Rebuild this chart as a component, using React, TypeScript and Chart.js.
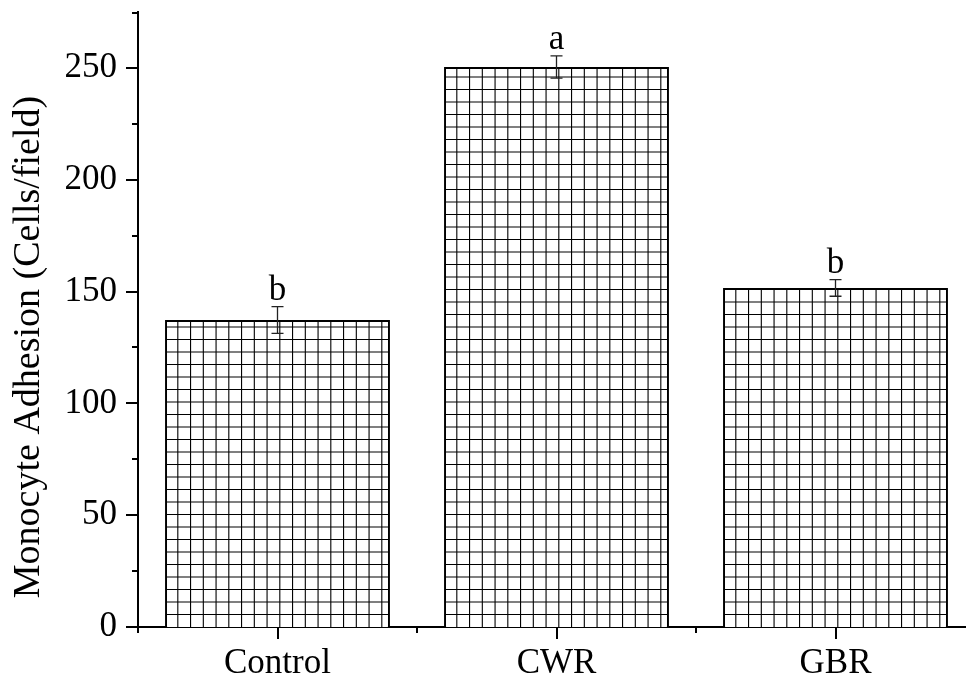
import React, { useEffect, useRef } from "react";
import { Chart, registerables } from "chart.js";

Chart.register(...registerables);

const categories = ["Control", "CWR", "GBR"];
const means = [137.3, 250.4, 151.6];
const errors = [6, 5, 3.7];
const letters = ["b", "a", "b"];
const yTicks = [0, 50, 100, 150, 200, 250];
const yMinorTicks = [25, 75, 125, 175, 225, 275];
const yTitle = "Monocyte Adhesion (Cells/field)";

const FONT = "'Liberation Serif', 'Times New Roman', serif";

const decorPlugin = {
  id: "decor",
  afterDatasetsDraw(chart: any) {
    const ctx = chart.ctx;
    const meta = chart.getDatasetMeta(0);
    const yScale = chart.scales.y;
    meta.data.forEach((bar: any) => {
      const p = bar.getProps(["x", "y", "base", "width"], true);
      const left = p.x - p.width / 2;
      const right = p.x + p.width / 2;
      const top = p.y;
      const bottom = p.base;
      ctx.save();
      ctx.beginPath();
      ctx.rect(left + 1, top + 1, right - left - 2, bottom - top - 1);
      ctx.clip();
      ctx.strokeStyle = "#000";
      ctx.lineWidth = 1.1;
      ctx.beginPath();
      for (let x = left + 12.75; x < right - 1; x += 12.75) {
        ctx.moveTo(x, top);
        ctx.lineTo(x, bottom);
      }
      for (let y = bottom - 12.5; y > top + 1; y -= 12.5) {
        ctx.moveTo(left, y);
        ctx.lineTo(right, y);
      }
      ctx.stroke();
      ctx.restore();
    });
    ctx.save();
    meta.data.forEach((bar: any, i: number) => {
      const x = bar.x;
      const yHi = yScale.getPixelForValue(means[i] + errors[i]);
      const yLo = yScale.getPixelForValue(means[i] - errors[i]);
      ctx.strokeStyle = "#222";
      ctx.lineWidth = 1.3;
      ctx.beginPath();
      ctx.moveTo(x, yHi);
      ctx.lineTo(x, yLo);
      ctx.moveTo(x - 6, yHi);
      ctx.lineTo(x + 6, yHi);
      ctx.moveTo(x - 6, yLo);
      ctx.lineTo(x + 6, yLo);
      ctx.stroke();
      ctx.fillStyle = "#000";
      ctx.font = `35px ${FONT}`;
      ctx.textAlign = "center";
      ctx.textBaseline = "alphabetic";
      ctx.fillText(letters[i], x, yHi - 7);
    });
    ctx.restore();
  },
  afterDraw(chart: any) {
    const ctx = chart.ctx;
    const area = chart.chartArea;
    const yScale = chart.scales.y;
    const xScale = chart.scales.x;
    ctx.save();
    ctx.strokeStyle = "#000";
    ctx.lineWidth = 2;
    ctx.beginPath();
    yTicks.forEach((v) => {
      const y = Math.round(yScale.getPixelForValue(v));
      ctx.moveTo(area.left - 12, y);
      ctx.lineTo(area.left, y);
    });
    yMinorTicks.forEach((v) => {
      const y = Math.round(yScale.getPixelForValue(v)) + (v === 275 ? 1 : 0);
      ctx.moveTo(area.left - 6, y);
      ctx.lineTo(area.left, y);
    });
    categories.forEach((_c, i) => {
      const x = Math.round(xScale.getPixelForValue(i));
      ctx.moveTo(x, area.bottom);
      ctx.lineTo(x, area.bottom + 12);
      const xb = Math.round(xScale.getPixelForValue(i - 0.5));
      ctx.moveTo(xb, area.bottom);
      ctx.lineTo(xb, area.bottom + 6);
    });
    const xe = Math.round(xScale.getPixelForValue(categories.length - 0.5));
    ctx.moveTo(xe, area.bottom);
    ctx.lineTo(xe, area.bottom + 6);
    ctx.stroke();
    ctx.fillStyle = "#000";
    ctx.font = `38px ${FONT}`;
    ctx.textAlign = "center";
    ctx.textBaseline = "middle";
    ctx.translate(29, 347);
    ctx.rotate(-Math.PI / 2);
    ctx.fillText(yTitle, 0, 0);
    ctx.restore();
  },
};

export default function App() {
  const ref = useRef<HTMLCanvasElement | null>(null);
  useEffect(() => {
    if (!ref.current) return;
    const chart = new Chart(ref.current, {
      type: "bar",
      data: {
        labels: categories,
        datasets: [
          {
            data: means,
            backgroundColor: "#fff",
            borderColor: "#000",
            borderWidth: 2,
            barPercentage: 0.806,
            categoryPercentage: 1,
          },
        ],
      },
      options: {
        responsive: false,
        animation: false,
        devicePixelRatio: 1,
        layout: { padding: { left: 0, top: 12, right: 25, bottom: 0 } },
        plugins: { legend: { display: false }, tooltip: { enabled: false } },
        scales: {
          x: {
            offset: true,
            grid: { display: false, drawTicks: false },
            border: { display: true, color: "#000", width: 2 },
            ticks: {
              color: "#000",
              padding: 16,
              font: { family: FONT, size: 35 },
              maxRotation: 0,
            },
            afterFit: (s: any) => {
              s.height = 56;
              s.paddingLeft = 0;
              s.paddingRight = 0;
            },
          },
          y: {
            min: 0,
            max: 275,
            grid: { display: false, drawTicks: false },
            border: { display: true, color: "#000", width: 2 },
            ticks: {
              color: "#000",
              padding: 21,
              font: { family: FONT, size: 35 },
            },
            afterBuildTicks: (s: any) => {
              s.ticks = yTicks.map((v) => ({ value: v }));
            },
            afterFit: (s: any) => {
              s.width = 138;
              s.paddingTop = 0;
              s.paddingBottom = 0;
            },
          },
        },
      },
      plugins: [decorPlugin],
    });
    return () => chart.destroy();
  }, []);
  return (
    <div
      style={{
        position: "absolute",
        left: 0,
        top: 0,
        width: 966,
        height: 683,
        overflow: "hidden",
        background: "#fff",
      }}
    >
      <canvas ref={ref} width={1000} height={683} style={{ display: "block" }} />
    </div>
  );
}
